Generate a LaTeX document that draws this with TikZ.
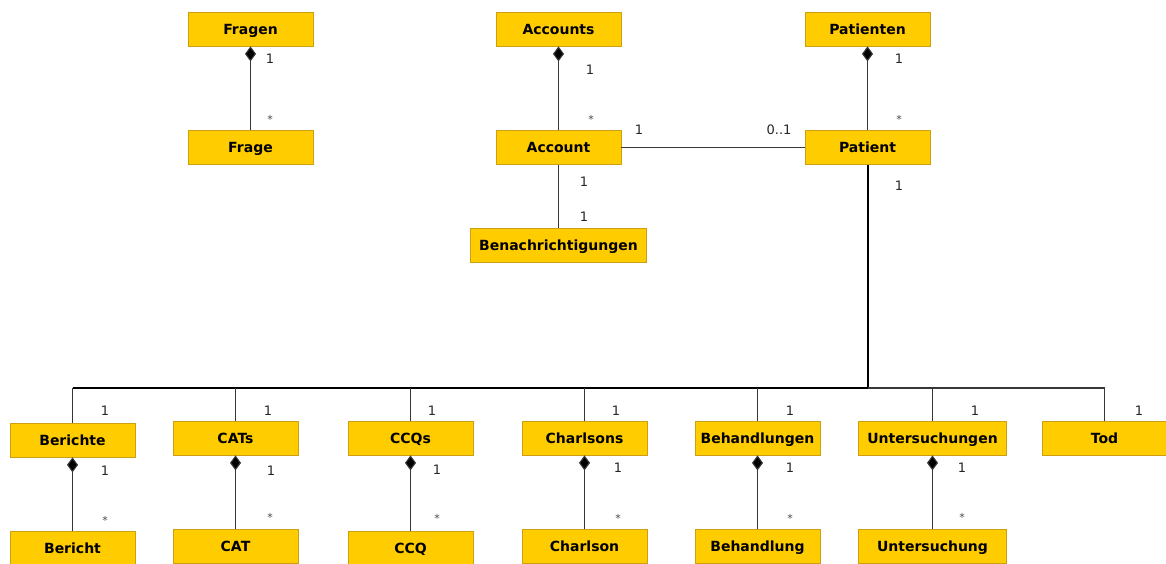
\documentclass[tikz,border=0pt]{standalone}
\usepackage{fontspec}
\setmainfont{DejaVu Sans}
\usetikzlibrary{arrows.meta}
\definecolor{classfill}{RGB}{255,204,0}
\definecolor{classedge}{RGB}{205,160,20}
\definecolor{linkgrey}{RGB}{55,55,55}
\tikzset{
  cls/.style={rectangle, fill=classfill, draw=classedge, line width=0.8pt,
    minimum height=34pt, inner sep=0pt, text height=10.4pt, text depth=0pt,
    font=\fontsize{14}{16}\selectfont\bfseries},
  w125/.style={minimum width=125pt},
  link/.style={draw=linkgrey, line width=1.1pt},
  comp/.style={link, {Diamond[length=15pt,width=11pt,fill=black]}-},
  bus/.style={draw=black, line width=2pt},
  mult/.style={font=\fontsize{13}{15}\selectfont, text=black!85, inner sep=0pt},
  star/.style={font=\fontsize{11}{12}\selectfont, text=black!70, inner sep=0pt},
}
\begin{document}
\begin{tikzpicture}[x=1pt,y=-1pt]
\useasboundingbox (0,0) rectangle (1166,563);

% top row: containers
\node[cls,w125] (fragen)    at (250.5,29) {Fragen};
\node[cls,w125] (accounts)  at (558.5,29) {Accounts};
\node[cls,w125] (patienten) at (867.5,29) {Patienten};

% second row
\node[cls,w125] (frage)   at (250.5,147.5) {Frage};
\node[cls,w125] (account) at (558.5,147.5) {Account};
\node[cls,w125] (patient) at (867.5,147.5) {Patient};
\node[cls,minimum width=176pt] (benach) at (558.5,245) {Benachrichtigungen};

% collections attached to the patient
\node[cls,w125] (berichte) at (72.5,440) {Berichte};
\node[cls,w125] (cats)     at (235.5,438) {CATs};
\node[cls,w125] (ccqs)     at (410.5,438) {CCQs};
\node[cls,w125] (charls)   at (584.5,438) {Charlsons};
\node[cls,w125] (behs)     at (757.5,438) {Behandlungen};
\node[cls,minimum width=148pt] (unts) at (932.5,438) {Untersuchungen};
\node[cls,w125] (tod)      at (1104.5,438) {Tod};

% collection elements
\node[cls,w125] (bericht) at (72.5,548) {Bericht};
\node[cls,w125] (cat)     at (235.5,546) {CAT};
\node[cls,w125] (ccq)     at (410.5,548) {CCQ};
\node[cls,w125] (charl)   at (584.5,546) {Charlson};
\node[cls,w125] (beh)     at (757.5,546) {Behandlung};
\node[cls,minimum width=148pt] (unt) at (932.5,546) {Untersuchung};

% compositions
\foreach \p/\c in {fragen/frage, accounts/account, patienten/patient,
                   berichte/bericht, cats/cat, ccqs/ccq, charls/charl,
                   behs/beh, unts/unt}
  \draw[comp] (\p.south) -- (\c.north);

% plain associations
\draw[link] (account.east) -- (patient.west);
\draw[link] (account.south) -- (benach.north);

% patient bus to the collections
\coordinate (hub) at (patient.south |- 0,388);
\draw[bus] (patient.south) -- (hub);
\draw[bus] (berichte.north |- hub) -- (hub);
\draw[link] (hub) -- (tod.north |- hub);
\foreach \n in {berichte, cats, ccqs, charls, behs, unts, tod}
  \draw[link] (\n.north |- hub) -- (\n.north);

% multiplicities
\node[mult] at (270,59) {1};   \node[star] at (270,119) {*};
\node[mult] at (590,70) {1};   \node[star] at (591,119) {*};
\node[mult] at (899,59) {1};   \node[star] at (899,119) {*};
\node[mult] at (639,130) {1};  \node[mult] at (779,130) {0..1};
\node[mult] at (584,182) {1};  \node[mult] at (584,217) {1};
\node[mult] at (899,186) {1};

\foreach \x in {105,268,432,616,790,975,1139}
  \node[mult] at (\x,411) {1};
\foreach \x/\y in {105/471,271/471,437/470,618/468,790/468,962/468}
  \node[mult] at (\x,\y) {1};
\foreach \x/\y in {105/520,270/517,437/518,618/518,790/518,962/517}
  \node[star] at (\x,\y) {*};
\end{tikzpicture}
\end{document}
